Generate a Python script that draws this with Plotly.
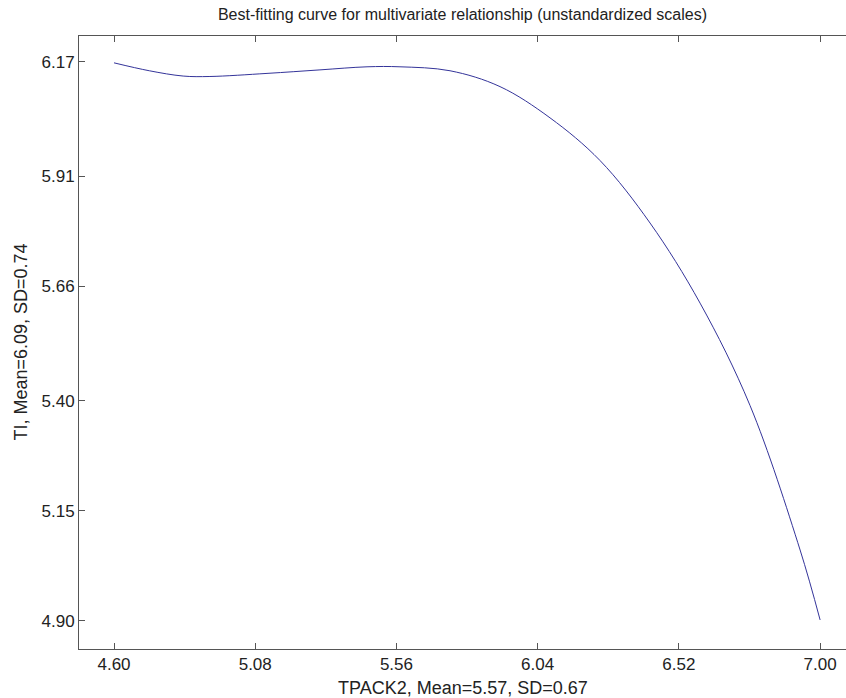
import plotly.graph_objects as go

# Curve values
tpack2 = [4.60, 4.72, 4.835, 4.926, 5.12, 5.30, 5.46, 5.572, 5.742, 5.912,
          6.082, 6.252, 6.422, 6.592, 6.762, 6.932, 7.00]
ti = [6.168, 6.150, 6.138, 6.137, 6.144, 6.152, 6.159, 6.159, 6.150, 6.114,
      6.043, 5.946, 5.804, 5.622, 5.389, 5.061, 4.902]

x_ticks = [4.60, 5.08, 5.56, 6.04, 6.52, 7.00]
y_ticks = [4.90, 5.15, 5.40, 5.66, 5.91, 6.17]

title_text = "Best-fitting curve for multivariate relationship (unstandardized scales)"
x_title = "TPACK2, Mean=5.57, SD=0.67"
y_title = "TI, Mean=6.09, SD=0.74"

font_family = "Liberation Sans, Arial, sans-serif"
text_color = "#222222"
axis_color = "#555555"

fig = go.Figure()
fig.add_trace(go.Scatter(
    x=tpack2, y=ti, mode="lines",
    line=dict(color="#34349a", width=1, shape="spline", smoothing=1.0),
    hoverinfo="skip", showlegend=False,
))

fig.update_layout(
    width=846, height=698,
    paper_bgcolor="white", plot_bgcolor="white",
    margin=dict(l=79, r=0, t=36, b=49),
    font=dict(family=font_family, color=text_color),
    title=dict(text=title_text, x=0.5, xref="paper", xanchor="center",
               y=1 - 14 / 698, yref="container", yanchor="middle",
               font=dict(size=16, family=font_family, color=text_color)),
    showlegend=False,
    annotations=[
        dict(text=x_title, xref="paper", yref="paper", x=0.5, y=0,
             xanchor="center", yanchor="middle", yshift=-39, showarrow=False,
             font=dict(size=18, family=font_family, color=text_color)),
        dict(text=y_title, xref="paper", yref="paper", x=0, y=0.5,
             xanchor="center", yanchor="middle", xshift=-59, textangle=-90,
             showarrow=False,
             font=dict(size=18, family=font_family, color=text_color)),
    ],
)

fig.update_xaxes(
    range=[4.481, 7.088], automargin=False,
    tickmode="array", tickvals=x_ticks, ticktext=[f"{v:.2f}" for v in x_ticks],
    ticks="inside", ticklen=6, tickcolor=axis_color, tickwidth=1,
    showline=True, linecolor=axis_color, linewidth=1, mirror="ticks",
    showgrid=False, zeroline=False,
    tickfont=dict(size=17, family=font_family, color=text_color),
)
fig.update_yaxes(
    range=[4.836, 6.229], automargin=False,
    tickmode="array", tickvals=y_ticks, ticktext=[f"{v:.2f}" for v in y_ticks],
    ticks="inside", ticklen=6, tickcolor=axis_color, tickwidth=1,
    showline=True, linecolor=axis_color, linewidth=1, mirror=False,
    showgrid=False, zeroline=False,
    tickfont=dict(size=17, family=font_family, color=text_color),
)

fig.write_html("out.html",
               config={"displayModeBar": False},
               post_script="document.body.style.margin='0';document.body.style.overflow='hidden';")
